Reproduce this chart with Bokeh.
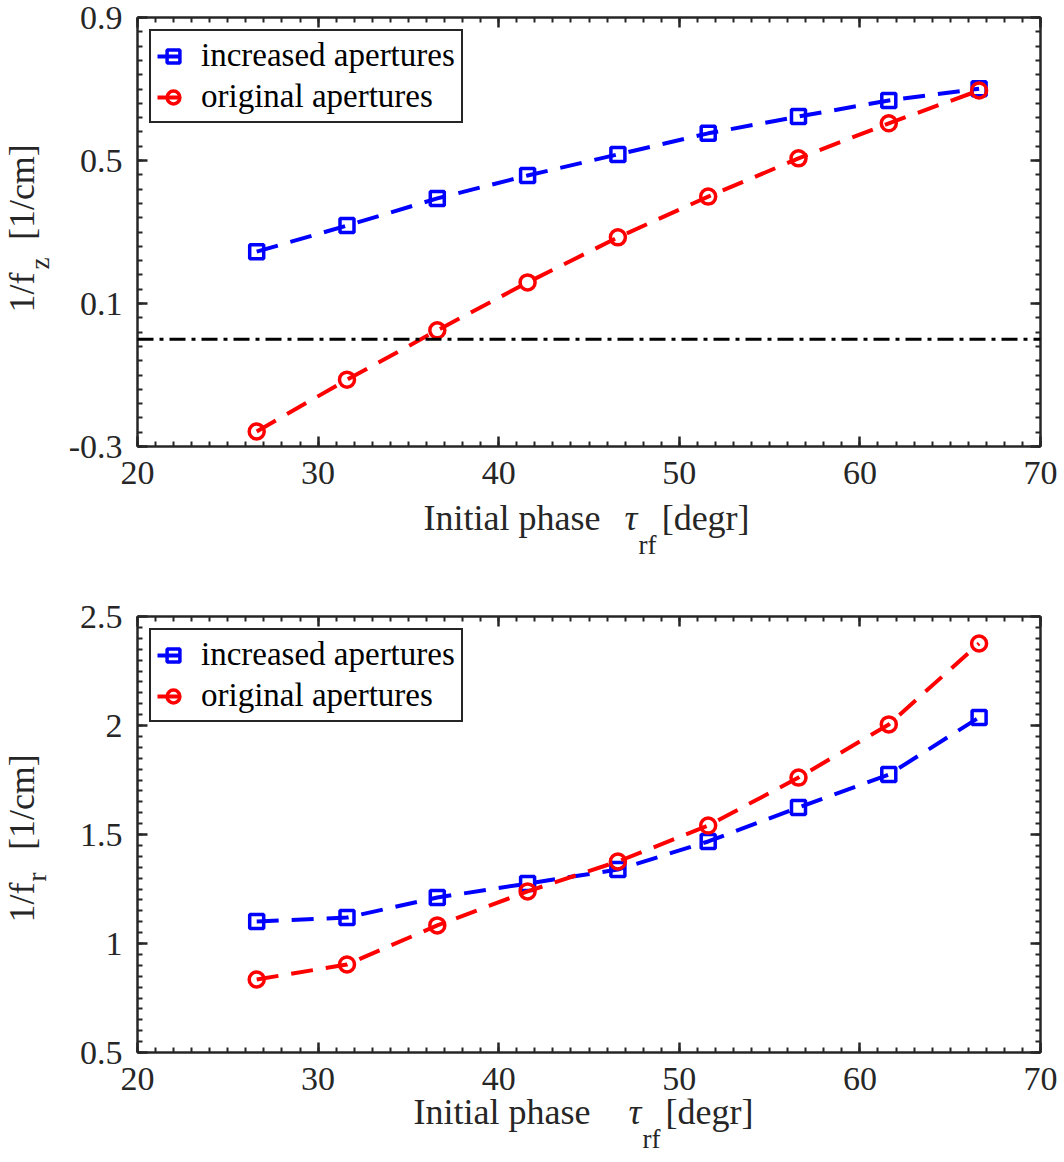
import numpy as np
from bokeh.plotting import figure
from bokeh.models import (LinearAxis, FixedTicker, Range1d, Label, Legend,
                          LegendItem, Span)
from bokeh.layouts import column
from bokeh.embed import file_html
from bokeh.resources import INLINE

# ---------------- data ----------------
phase = [26.6, 31.6, 36.6, 41.6, 46.6, 51.6, 56.6, 61.6, 66.6]

fz_increased = [0.245, 0.318, 0.394, 0.458, 0.517, 0.576, 0.623, 0.668, 0.701]
fz_original = [-0.258, -0.113, 0.025, 0.159, 0.285, 0.399, 0.506, 0.604, 0.696]

fr_increased = [1.101, 1.119, 1.211, 1.275, 1.339, 1.468, 1.624, 1.775, 2.037]
fr_original = [0.835, 0.904, 1.083, 1.239, 1.376, 1.541, 1.761, 2.005, 2.376]

zero_line = 0.0

x_ticks = [20, 30, 40, 50, 60, 70]
top_y_ticks = [-0.3, 0.1, 0.5, 0.9]
bot_y_ticks = [0.5, 1.0, 1.5, 2.0, 2.5]
tick_labels_top = {-0.3: "-0.3", 0.1: "0.1", 0.5: "0.5", 0.9: "0.9"}
tick_labels_bot = {0.5: "0.5", 1.0: "1", 1.5: "1.5", 2.0: "2", 2.5: "2.5"}

series_names = ["increased apertures", "original apertures"]

# ---------------- style ----------------
FONT = "Liberation Serif"
AX = "#262626"
BLUE = "#0000ff"
RED = "#ff0000"


def style_axis(ax, ticker, show_labels, overrides=None):
    ax.ticker = ticker
    ax.axis_line_color = AX
    ax.axis_line_width = 2.5
    ax.major_tick_line_color = AX
    ax.minor_tick_line_color = AX
    ax.major_tick_line_width = 2.5
    ax.minor_tick_line_width = 2
    ax.major_tick_in = 10
    ax.major_tick_out = 0
    ax.minor_tick_in = 5
    ax.minor_tick_out = 0
    ax.major_label_text_font = FONT
    if show_labels:
        ax.major_label_text_color = AX
        ax.major_label_text_font_size = "34px"
        ax.major_label_standoff = 15
        if overrides:
            ax.major_label_overrides = overrides
    else:
        # mirror axis (box frame): ticks only, no labels drawn
        ax.major_label_text_color = None
        ax.major_label_text_font_size = "0px"
        ax.major_label_standoff = 0


def make_panel(width, height, fl, fr, ft, fb, ymin, ymax, yticks, yminor,
               ylabels, inc, orig, sub, xlab, ylab, rf_place, zero=None):
    p = figure(width=width, height=height, output_backend="svg",
               toolbar_location=None, x_range=Range1d(20, 70),
               y_range=Range1d(ymin, ymax),
               min_border_left=fl, min_border_right=width - fr,
               min_border_top=ft, min_border_bottom=height - fb,
               x_axis_location=None, y_axis_location=None)
    p.xgrid.visible = False
    p.ygrid.visible = False
    p.outline_line_color = None
    p.background_fill_color = "white"
    p.border_fill_color = "white"

    xt = FixedTicker(ticks=x_ticks, minor_ticks=list(np.arange(20, 70.5, 1.0)))
    yt = FixedTicker(ticks=yticks, minor_ticks=yminor)

    bx = LinearAxis()
    style_axis(bx, xt, True)
    p.add_layout(bx, "below")
    tx = LinearAxis()
    style_axis(tx, xt, False)
    p.add_layout(tx, "above")
    ly = LinearAxis()
    style_axis(ly, yt, True, ylabels)
    p.add_layout(ly, "left")
    ry = LinearAxis()
    style_axis(ry, yt, False)
    p.add_layout(ry, "right")

    if zero is not None:
        p.add_layout(Span(location=zero, dimension="width", line_color="black",
                          line_width=3, line_dash="16 6 4 6"))

    l1 = p.line(phase, inc, line_color=BLUE, line_width=4, line_dash="22 13")
    m1 = p.scatter(phase, inc, marker="square", size=14, line_color=BLUE,
                   line_width=3.5, fill_color=None)
    l2 = p.line(phase, orig, line_color=RED, line_width=4, line_dash="22 13")
    m2 = p.scatter(phase, orig, marker="circle", size=15, line_color=RED,
                   line_width=3.5, fill_color=None)

    leg = Legend(items=[LegendItem(label=series_names[0], renderers=[l1, m1]),
                        LegendItem(label=series_names[1], renderers=[l2, m2])],
                 location="top_left", margin=12, padding=6, spacing=4,
                 glyph_width=32, glyph_height=34, label_height=34,
                 label_standoff=12, label_text_font=FONT,
                 label_text_font_size="33px", label_text_color="black",
                 border_line_color=AX, border_line_width=2.5,
                 border_line_alpha=1.0,
                 background_fill_color="white", background_fill_alpha=1.0)
    p.add_layout(leg)

    # pixel -> data conversion for label placement (relative to this figure)
    def dx(px):
        return 20 + (px - fl) / (fr - fl) * 50.0

    def dy(py):
        return ymax - (py - ft) / (fb - ft) * (ymax - ymin)

    def txt(place, px, py, text, size, angle=0.0, style="normal"):
        # labels live in side panels so that they are not clipped to the frame
        p.add_layout(Label(x=dx(px), y=dy(py), text=text, angle=angle,
                           text_font=FONT, text_font_size=size,
                           text_font_style=style, text_color=AX,
                           text_align="left", text_baseline="alphabetic"),
                     place)

    # x axis label pieces
    (x0, b0, gap), (x1, _), (x2, b2) = xlab
    txt("below", x0, b0, "Initial phase" + gap + "[degr]", "36px")
    txt("right", x1, b0, "\u03c4", "36px", style="italic")
    txt(rf_place, x2, b2, "rf", "27px")

    # y axis label pieces (rotated)
    (ya, xa), (yb, xb) = ylab
    txt("left", xa, ya, "1/f\u2002\u2009\u2009[1/cm]", "36px", angle=np.pi / 2)
    txt("below", xb, yb, sub, "27px", angle=np.pi / 2)
    return p


TOP_H = 575
top = make_panel(1064, TOP_H, 137, 1040, 17, 446, -0.3, 0.9, top_y_ticks,
                 list(np.arange(-0.3, 0.9001, 0.04)), tick_labels_top,
                 fz_increased, fz_original, "z",
                 [(423, 517, "\u2003\u2002\u2009"), (624, 0), (638, 544)],
                 [(312, 21), (269, 39)], "left", zero=zero_line)

BOT_H = 1162 - TOP_H
off = TOP_H
bottom = make_panel(1064, BOT_H, 137, 1040, 616 - off, 1052 - off, 0.5, 2.5,
                    bot_y_ticks, list(np.arange(0.5, 2.5001, 0.05)),
                    tick_labels_bot, fr_increased, fr_original, "r",
                    [(413, 1111 - off, "\u2003\u2003\u200a"), (628, 0),
                     (642, 1138 - off)],
                    [(922 - off, 21), (881 - off, 36)], "above")

layout = column(top, bottom, spacing=0)

with open("out.html", "w") as f:
    f.write(file_html(layout, INLINE))
